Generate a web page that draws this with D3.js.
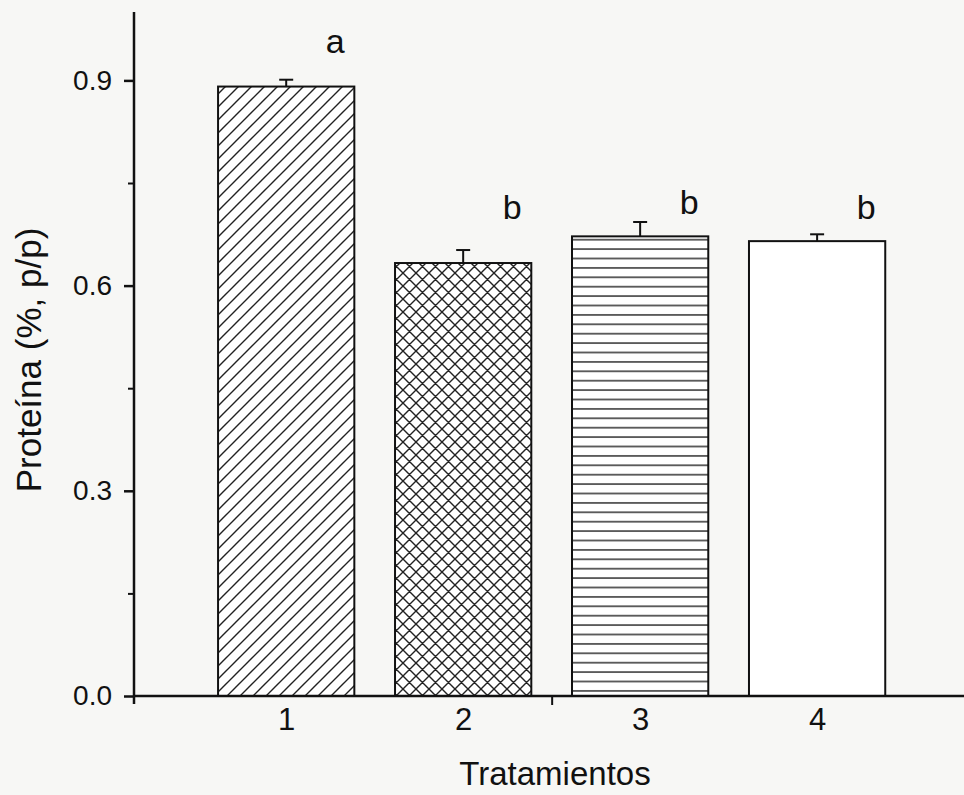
<!DOCTYPE html>
<html>
<head>
<meta charset="utf-8">
<script src="https://cdn.jsdelivr.net/npm/d3@7"></script>
<style>
  body { margin: 0; background: #f7f7f5; }
  text { font-family: "Liberation Sans", Arial, sans-serif; fill: #111; }
</style>
</head>
<body>
<div id="chart"></div>
<script>
// data
var categories = [1, 2, 3, 4];
var means = [0.891, 0.633, 0.672, 0.665];
var errors = [0.010, 0.019, 0.021, 0.010];
var letters = ["a", "b", "b", "b"];
var letterY = [0.940, 0.697, 0.705, 0.697];
var patterns = ["diag", "cross", "horiz", "none"];
var yTicks = [0, 0.3, 0.6, 0.9];
var yMinor = [0.15, 0.45, 0.75];
var xTicks = [2.5];

var W = 964, H = 795;

var svg = d3.select("#chart")
  .append("svg")
  .attr("width", W)
  .attr("height", H);

var x = d3.scaleLinear().domain([0.14, 4.83]).range([134, 964]);
var y = d3.scaleLinear().domain([0, 1]).range([696, 12]);
var barW = x(1.77) - x(1);

// hatch patterns
var defs = svg.append("defs");

var p1 = defs.append("pattern")
  .attr("id", "diag")
  .attr("patternUnits", "userSpaceOnUse")
  .attr("width", 13).attr("height", 13);
p1.append("rect").attr("width", 13).attr("height", 13).attr("fill", "#fff");
p1.append("path")
  .attr("d", "M-3,3 L3,-3 M0,13 L13,0 M10,16 L16,10")
  .attr("stroke", "#222").attr("stroke-width", 1.4);

var p2 = defs.append("pattern")
  .attr("id", "cross")
  .attr("patternUnits", "userSpaceOnUse")
  .attr("width", 13).attr("height", 13);
p2.append("rect").attr("width", 13).attr("height", 13).attr("fill", "#fff");
p2.append("path")
  .attr("d", "M-3,3 L3,-3 M0,13 L13,0 M10,16 L16,10 M-3,10 L3,16 M0,0 L13,13 M10,-3 L16,3")
  .attr("stroke", "#222").attr("stroke-width", 1.4);

var p3 = defs.append("pattern")
  .attr("id", "horiz")
  .attr("patternUnits", "userSpaceOnUse")
  .attr("width", 20).attr("height", 9.4);
p3.append("rect").attr("width", 20).attr("height", 9.4).attr("fill", "#fff");
p3.append("path")
  .attr("d", "M0,4.7 L20,4.7")
  .attr("stroke", "#222").attr("stroke-width", 1.4);

var bars = categories.map(function(c, i) {
  return { cat: c, mean: means[i], err: errors[i], letter: letters[i], ly: letterY[i], pat: patterns[i] };
});

// error bars (drawn first so bar outline sits on top)
var eb = svg.append("g").attr("stroke", "#111").attr("stroke-width", 2).attr("fill", "none");
eb.selectAll("line.v")
  .data(bars).enter().append("line")
  .attr("x1", function(d) { return x(d.cat); })
  .attr("x2", function(d) { return x(d.cat); })
  .attr("y1", function(d) { return y(d.mean); })
  .attr("y2", function(d) { return y(d.mean + d.err); });
eb.selectAll("line.h")
  .data(bars).enter().append("line")
  .attr("x1", function(d) { return x(d.cat) - 7; })
  .attr("x2", function(d) { return x(d.cat) + 7; })
  .attr("y1", function(d) { return y(d.mean + d.err); })
  .attr("y2", function(d) { return y(d.mean + d.err); });

svg.append("g")
  .selectAll("rect")
  .data(bars)
  .enter().append("rect")
  .attr("x", function(d) { return x(d.cat) - barW / 2; })
  .attr("y", function(d) { return y(d.mean); })
  .attr("width", barW)
  .attr("height", function(d) { return y(0) - y(d.mean); })
  .attr("fill", function(d) { return d.pat == "none" ? "#fff" : "url(#" + d.pat + ")"; })
  .attr("stroke", "#111")
  .attr("stroke-width", 2);

// significance letters
svg.append("g")
  .selectAll("text")
  .data(bars)
  .enter().append("text")
  .attr("x", function(d) { return x(d.cat) + 49; })
  .attr("y", function(d) { return y(d.ly); })
  .attr("text-anchor", "middle")
  .style("font-size", "34px")
  .text(function(d) { return d.letter; });

// y axis
var gy = svg.append("g")
  .attr("transform", "translate(134,0)")
  .call(d3.axisLeft(y).tickValues(yTicks).tickSize(10).tickPadding(12)
    .tickFormat(d3.format(".1f")));
gy.select(".domain").remove();
gy.selectAll(".tick line").attr("stroke", "#111").attr("stroke-width", 2.5);
gy.selectAll(".tick text").style("font-size", "28px").attr("fill", "#111");

var gym = svg.append("g")
  .attr("transform", "translate(134,0)")
  .call(d3.axisLeft(y).tickValues(yMinor).tickSize(6).tickFormat(""));
gym.select(".domain").remove();
gym.selectAll(".tick line").attr("stroke", "#111").attr("stroke-width", 2);

svg.append("line")
  .attr("x1", 134).attr("x2", 134)
  .attr("y1", y(1)).attr("y2", y(0) + 8)
  .attr("stroke", "#111").attr("stroke-width", 2.5);

// x axis
var gx = svg.append("g")
  .attr("transform", "translate(0," + y(0) + ")")
  .call(d3.axisBottom(x).tickValues(categories).tickSize(0).tickPadding(12)
    .tickFormat(d3.format("d")));
gx.select(".domain").remove();
gx.selectAll(".tick text").style("font-size", "31px").attr("fill", "#111");

var gxt = svg.append("g")
  .attr("transform", "translate(0," + y(0) + ")")
  .call(d3.axisBottom(x).tickValues(xTicks).tickSize(9).tickFormat(""));
gxt.select(".domain").remove();
gxt.selectAll(".tick line").attr("stroke", "#111").attr("stroke-width", 2);

svg.append("line")
  .attr("x1", 134).attr("x2", W)
  .attr("y1", y(0)).attr("y2", y(0))
  .attr("stroke", "#111").attr("stroke-width", 2.5);

// titles
svg.append("text")
  .attr("x", 555).attr("y", 785)
  .attr("text-anchor", "middle")
  .style("font-size", "33px")
  .text("Tratamientos");

svg.append("text")
  .attr("transform", "translate(41,360) rotate(-90)")
  .attr("text-anchor", "middle")
  .style("font-size", "35px")
  .text("Proteína (%, p/p)");
</script>
</body>
</html>
